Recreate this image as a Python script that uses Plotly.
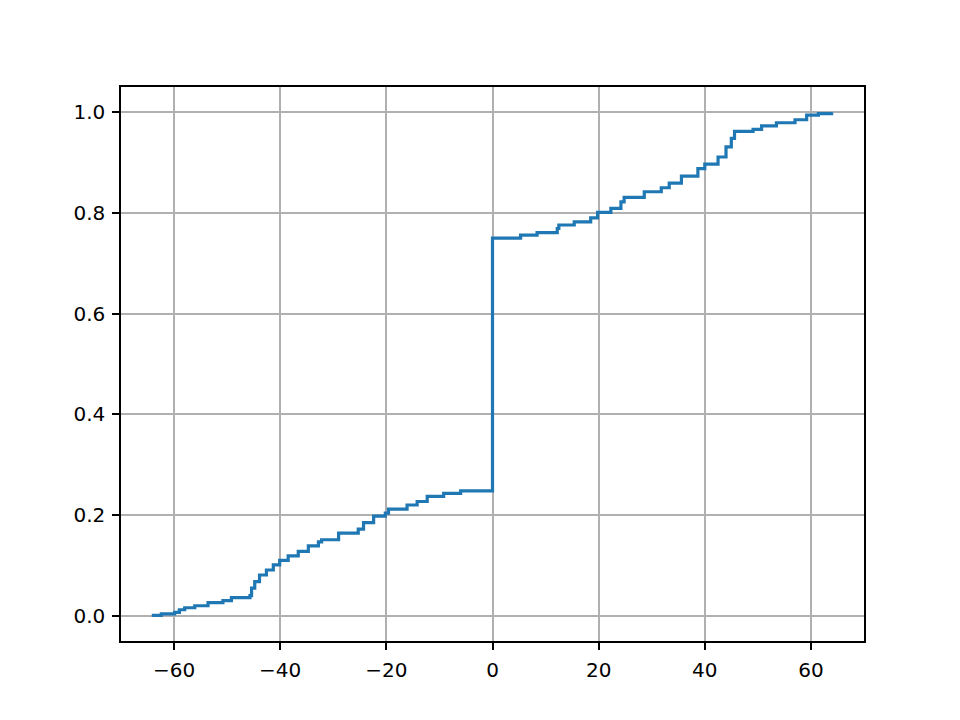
import plotly.graph_objects as go

# ECDF breakpoints (x value, cumulative proportion)
x_vals = [-64.2, -62.4, -59.9, -59.0, -58.0, -56.1, -53.6, -50.8, -49.2, -45.7, -45.4, -44.8,
          -43.9, -42.6, -41.3, -40.1, -38.5, -36.6, -34.7, -32.8, -32.2, -29.0, -25.3, -24.3,
          -22.4, -20.2, -19.6, -16.1, -14.2, -12.3, -9.2, -6.0, 0.0,
          0.0, 5.3, 8.4, 12.2, 12.5, 15.4, 18.5, 19.8, 22.3, 24.2, 24.8, 28.6, 31.8, 33.3,
          35.6, 38.7, 40.0, 42.5, 44.0, 45.0, 45.6, 49.1, 50.7, 53.5, 57.0, 59.2, 61.4, 63.9]
y_vals = [0.001, 0.004, 0.007, 0.012, 0.016, 0.020, 0.026, 0.030, 0.036, 0.040, 0.055, 0.068,
          0.081, 0.091, 0.101, 0.110, 0.119, 0.128, 0.139, 0.147, 0.151, 0.164, 0.172, 0.185,
          0.198, 0.204, 0.212, 0.220, 0.227, 0.237, 0.243, 0.248, 0.250,
          0.750, 0.756, 0.761, 0.769, 0.776, 0.782, 0.790, 0.801, 0.809, 0.822, 0.831, 0.842, 0.850, 0.859,
          0.873, 0.888, 0.897, 0.911, 0.931, 0.948, 0.962, 0.966, 0.973, 0.979, 0.985, 0.994, 0.997, 1.000]

x_ticks = [-60, -40, -20, 0, 20, 40, 60]
y_ticks = [0.0, 0.2, 0.4, 0.6, 0.8, 1.0]

fig = go.Figure()
fig.add_trace(go.Scatter(
    x=x_vals, y=y_vals, mode="lines", line_shape="hv",
    line=dict(color="#1f77b4", width=3.2), showlegend=False,
))

axis_common = dict(
    showline=True, linecolor="black", linewidth=1.5, mirror=True,
    showgrid=True, gridcolor="#b0b0b0", gridwidth=1.5,
    ticks="outside", ticklen=7, tickwidth=1.5, tickcolor="black",
    zeroline=False, tickfont=dict(family="DejaVu Sans", size=20, color="black"),
    ticklabelstandoff=3,
)

fig.update_xaxes(range=[-70, 70], tickvals=x_ticks,
                 ticktext=[f"\u2212{abs(v)}" if v < 0 else str(v) for v in x_ticks],
                 **axis_common)
fig.update_yaxes(range=[-0.05, 1.05], tickvals=y_ticks,
                 ticktext=[f"{v:.1f}" for v in y_ticks], **axis_common)

fig.update_layout(
    width=960, height=720,
    margin=dict(l=113, r=104, t=79, b=87),
    paper_bgcolor="white", plot_bgcolor="white",
)

fig.write_html("out.html")
